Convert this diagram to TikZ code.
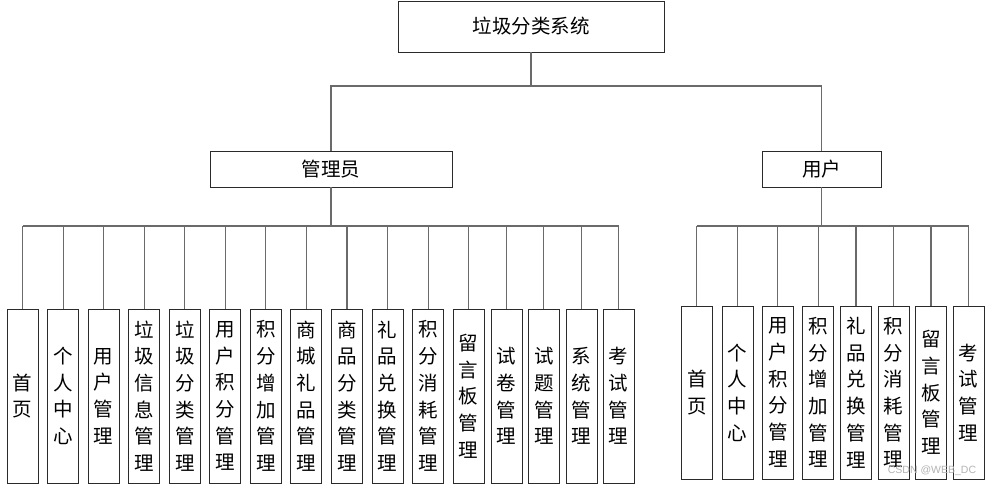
\documentclass[tikz,border=0pt]{standalone}
\usepackage{fontspec}
\newfontfamily\cjk{Noto Sans CJK SC}
\definecolor{linegray}{HTML}{6A6A6A}
\definecolor{boxline}{HTML}{2A2A2A}
\definecolor{wmgray}{HTML}{B4B4B4}
\begin{document}
\begin{tikzpicture}[x=1pt,y=-1pt,
  hbox/.style={draw=boxline, line width=0.9pt, fill=white, inner sep=0pt, font=\cjk\fontsize{19.5}{22}\selectfont},
  leaf/.style={draw=boxline, line width=0.9pt, fill=white, inner sep=0pt, minimum width=31pt, align=center, font=\cjk\fontsize{19.5}{26.7}\selectfont},
  lleaf/.style={leaf, minimum height=174pt},
  rleaf/.style={leaf, minimum height=173pt},
  conn/.style={draw=linegray, line width=1.1pt}]
\useasboundingbox (0,0) rectangle (992,487);
\fill[white] (0,0) rectangle (992,487);
% headers
\node[hbox, minimum width=266pt, minimum height=51pt] (top) at (531,26.5) {垃圾分类系统};
\node[hbox, minimum width=242pt, minimum height=36pt] (admin) at (331,169) {管理员};
\node[hbox, minimum width=119pt, minimum height=36pt] (user) at (821.5,169) {用户};
\coordinate (h1) at (0,86);
\coordinate (h2) at (0,226);
% admin leaves
\node[lleaf] (a1) at (22.7,396) {首\\页};
\node[lleaf] (a2) at (63.2,396) {个\\人\\中\\心};
\node[lleaf] (a3) at (103.7,396) {用\\户\\管\\理};
\node[lleaf] (a4) at (144.2,396) {垃\\圾\\信\\息\\管\\理};
\node[lleaf] (a5) at (184.8,396) {垃\\圾\\分\\类\\管\\理};
\node[lleaf] (a6) at (225.3,396) {用\\户\\积\\分\\管\\理};
\node[lleaf] (a7) at (265.8,396) {积\\分\\增\\加\\管\\理};
\node[lleaf] (a8) at (306.3,396) {商\\城\\礼\\品\\管\\理};
\node[lleaf] (a9) at (347,396) {商\\品\\分\\类\\管\\理};
\node[lleaf] (a10) at (387.7,396) {礼\\品\\兑\\换\\管\\理};
\node[lleaf] (a11) at (428.3,396) {积\\分\\消\\耗\\管\\理};
\node[lleaf] (a12) at (468.7,396) {留\\言\\板\\管\\理};
\node[lleaf] (a13) at (506.5,396) {试\\卷\\管\\理};
\node[lleaf] (a14) at (543.8,396) {试\\题\\管\\理};
\node[lleaf] (a15) at (581.5,396) {系\\统\\管\\理};
\node[lleaf] (a16) at (618.7,396) {考\\试\\管\\理};
% user leaves
\node[rleaf] (u1) at (696.8,392.5) {首\\页};
\node[rleaf] (u2) at (737.5,392.5) {个\\人\\中\\心};
\node[rleaf] (u3) at (777.8,392.5) {用\\户\\积\\分\\管\\理};
\node[rleaf] (u4) at (818.3,392.5) {积\\分\\增\\加\\管\\理};
\node[rleaf] (u5) at (856,392.5) {礼\\品\\兑\\换\\管\\理};
\node[rleaf] (u6) at (893.5,392.5) {积\\分\\消\\耗\\管\\理};
\node[rleaf] (u7) at (931,392.5) {留\\言\\板\\管\\理};
\node[rleaf] (u8) at (968.5,392.5) {考\\试\\管\\理};
% connectors: level 1
\draw[conn] (top.south) -- (top.south |- h1);
\draw[conn] (admin.north) -- (admin.north |- h1) -- (user.north |- h1) -- (user.north);
% admin branch
\draw[conn] (admin.south) -- (admin.south |- h2);
\draw[conn] (a1.north |- h2) -- (a16.north |- h2);
\foreach \i in {1,...,16} {\draw[conn] (a\i.north |- h2) -- (a\i.north);}
% user branch
\draw[conn] (user.south) -- (user.south |- h2);
\draw[conn] (u1.north |- h2) -- (u8.north |- h2);
\foreach \i in {1,...,8} {\draw[conn] (u\i.north |- h2) -- (u\i.north);}
% watermark
\node[text=wmgray, font=\fontspec{Liberation Sans}\fontsize{10.5}{12}\selectfont, inner sep=0pt] (wm) at (932,471) {CSDN @WEB\_DC};
\end{tikzpicture}
\end{document}
